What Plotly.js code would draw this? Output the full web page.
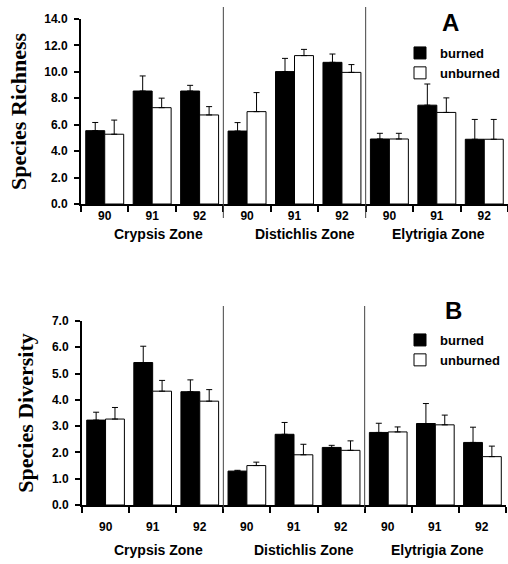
<!DOCTYPE html>
<html>
<head>
<meta charset="utf-8">
<script src="https://cdn.plot.ly/plotly-3.0.1.min.js"></script>
<style>html,body{margin:0;padding:0;background:#fff;overflow:hidden}#chart{width:508px;height:564px}</style>
</head>
<body>
<div id="chart"></div>
<script>
// ---- data ----
const zones = ["Crypsis Zone", "Distichlis Zone", "Elytrigia Zone"];
const years = ["90", "91", "92"];
const seriesNames = ["burned", "unburned"];

// Panel A: species richness (mean, standard error)
const richBurned      = [5.55, 8.55, 8.55, 5.52, 10.02, 10.72, 4.92, 7.48, 4.90];
const richBurnedSE    = [0.62, 1.14, 0.43, 0.64, 1.00, 0.63, 0.43, 1.60, 1.50];
const richUnburned    = [5.28, 7.29, 6.74, 6.99, 11.23, 9.96, 4.92, 6.93, 4.90];
const richUnburnedSE  = [1.07, 0.72, 0.63, 1.44, 0.47, 0.59, 0.43, 1.10, 1.50];

// Panel B: species diversity (mean, standard error)
const divBurned       = [3.23, 5.42, 4.31, 1.29, 2.69, 2.19, 2.76, 3.10, 2.38];
const divBurnedSE     = [0.30, 0.62, 0.45, 0.03, 0.45, 0.08, 0.35, 0.76, 0.58];
const divUnburned     = [3.27, 4.33, 3.95, 1.50, 1.91, 2.08, 2.78, 3.05, 1.84];
const divUnburnedSE   = [0.44, 0.41, 0.44, 0.13, 0.40, 0.36, 0.19, 0.37, 0.40];

// ---- build categories ----
const cats = [], tickText = [];
zones.forEach(z => years.forEach(y => { cats.push(z + " " + y); tickText.push(y); }));

const W = 508, H = 564;
const bold = {family: "Liberation Sans, Arial, sans-serif", size: 12, color: "#000", weight: 700};

function barTrace(vals, se, name, fill, xa, ya, leg) {
  return {
    type: "bar", name: name, x: cats, y: vals,
    xaxis: xa, yaxis: ya, legend: leg,
    marker: {color: fill, line: {color: "#000", width: 1}},
    error_y: {type: "data", symmetric: false, array: se, arrayminus: se.map(() => 0),
              color: "#000", thickness: 1, width: 3},
    hoverinfo: "skip"
  };
}

const data = [
  barTrace(richBurned, richBurnedSE, seriesNames[0], "#000", "x", "y", "legend"),
  barTrace(richUnburned, richUnburnedSE, seriesNames[1], "#fff", "x", "y", "legend"),
  barTrace(divBurned, divBurnedSE, seriesNames[0], "#000", "x2", "y2", "legend2"),
  barTrace(divUnburned, divUnburnedSE, seriesNames[1], "#fff", "x2", "y2", "legend2")
];

function xAxis(domain, anchor, showLabels) {
  return {
    domain: domain, anchor: anchor, type: "category",
    categoryorder: "array", categoryarray: cats,
    tickmode: "array", tickvals: cats, ticktext: tickText, tickson: "boundaries",
    ticks: "outside", ticklen: 6, tickwidth: 2, tickcolor: "#000",
    showline: true, linecolor: "#000", linewidth: 2, showticklabels: showLabels,
    showgrid: false, zeroline: false, tickfont: bold,
    range: [-0.5, 8.5], fixedrange: true
  };
}
function yAxis(domain, anchor, range, dtick, title) {
  return {
    domain: domain, anchor: anchor, range: range, dtick: dtick, tickformat: ".1f",
    ticks: "outside", ticklen: 5, tickwidth: 2, tickcolor: "#000",
    showline: true, linecolor: "#000", linewidth: 2,
    showgrid: false, zeroline: false, tickfont: bold, ticklabelstandoff: 4,
    title: {text: title, standoff: 12,
            font: {family: "Liberation Serif, Times New Roman, serif", size: 22, color: "#000", weight: 700}},
    fixedrange: true
  };
}

const yA = [1 - 204 / H, 1 - 19 / H];
const yB = [1 - 505 / H, 1 - 321 / H];

const annotations = [];
// year labels under panel B
cats.forEach((c, i) => {
  annotations.push({xref: "x2", yref: "paper", x: i, y: 1 - 527 / H, text: tickText[i], showarrow: false,
    xanchor: "center", yanchor: "middle", font: bold});
});
zones.forEach((z, i) => {
  const mid = i * years.length + 1;
  const shift = [6, 10, 2][i];
  annotations.push({xref: "x", yref: "paper", x: mid, y: 1 - 234 / H, text: z, showarrow: false,
    xanchor: "center", yanchor: "middle", xshift: shift, font: Object.assign({}, bold, {size: 14})});
  annotations.push({xref: "x2", yref: "paper", x: mid, y: 1 - 550 / H, text: z, showarrow: false,
    xanchor: "center", yanchor: "middle", xshift: shift, font: Object.assign({}, bold, {size: 14})});
});
annotations.push({xref: "paper", yref: "paper", x: 450 / W, y: 1 - 23 / H, text: "A", showarrow: false,
  xanchor: "center", yanchor: "middle", font: Object.assign({}, bold, {size: 24})});
annotations.push({xref: "paper", yref: "paper", x: 453 / W, y: 1 - 310 / H, text: "B", showarrow: false,
  xanchor: "center", yanchor: "middle", font: Object.assign({}, bold, {size: 24})});

// zone separator lines at boundaries between zones
const shapes = [];
for (let i = 1; i < zones.length; i++) {
  const bx = i * years.length - 0.5;
  shapes.push({type: "line", xref: "x", yref: "paper", x0: bx, x1: bx, y0: 1 - 218 / H, y1: 1 - 7 / H,
    line: {color: "#444", width: 1}});
  shapes.push({type: "line", xref: "x2", yref: "paper", x0: bx, x1: bx, y0: 1 - 509 / H, y1: 1 - 306 / H,
    line: {color: "#444", width: 1}});
}

const legendFont = Object.assign({}, bold, {size: 13});
const layout = {
  width: W, height: H,
  margin: {l: 0, r: 0, t: 0, b: 0},
  paper_bgcolor: "#fff", plot_bgcolor: "#fff",
  barmode: "group", bargap: 0.2, bargroupgap: 0,
  xaxis: xAxis([81 / W, 1], "y", true),
  yaxis: yAxis(yA, "x", [0, 14], 2, "Species Richness"),
  xaxis2: xAxis([82 / W, 506 / W], "y2", false),
  yaxis2: yAxis(yB, "x2", [0, 7], 1, "Species Diversity"),
  legend: {x: 400 / W, y: 1 - 38 / H, xanchor: "left", yanchor: "top", bgcolor: "rgba(0,0,0,0)",
    borderwidth: 0, font: legendFont, traceorder: "normal", itemwidth: 30},
  legend2: {x: 400 / W, y: 1 - 325 / H, xanchor: "left", yanchor: "top", bgcolor: "rgba(0,0,0,0)",
    borderwidth: 0, font: legendFont, traceorder: "normal", itemwidth: 30},
  showlegend: true,
  annotations: annotations,
  shapes: shapes,
  font: {family: "Liberation Sans, Arial, sans-serif", color: "#000"}
};

Plotly.newPlot("chart", data, layout, {displayModeBar: false, staticPlot: true});
</script>
</body>
</html>
